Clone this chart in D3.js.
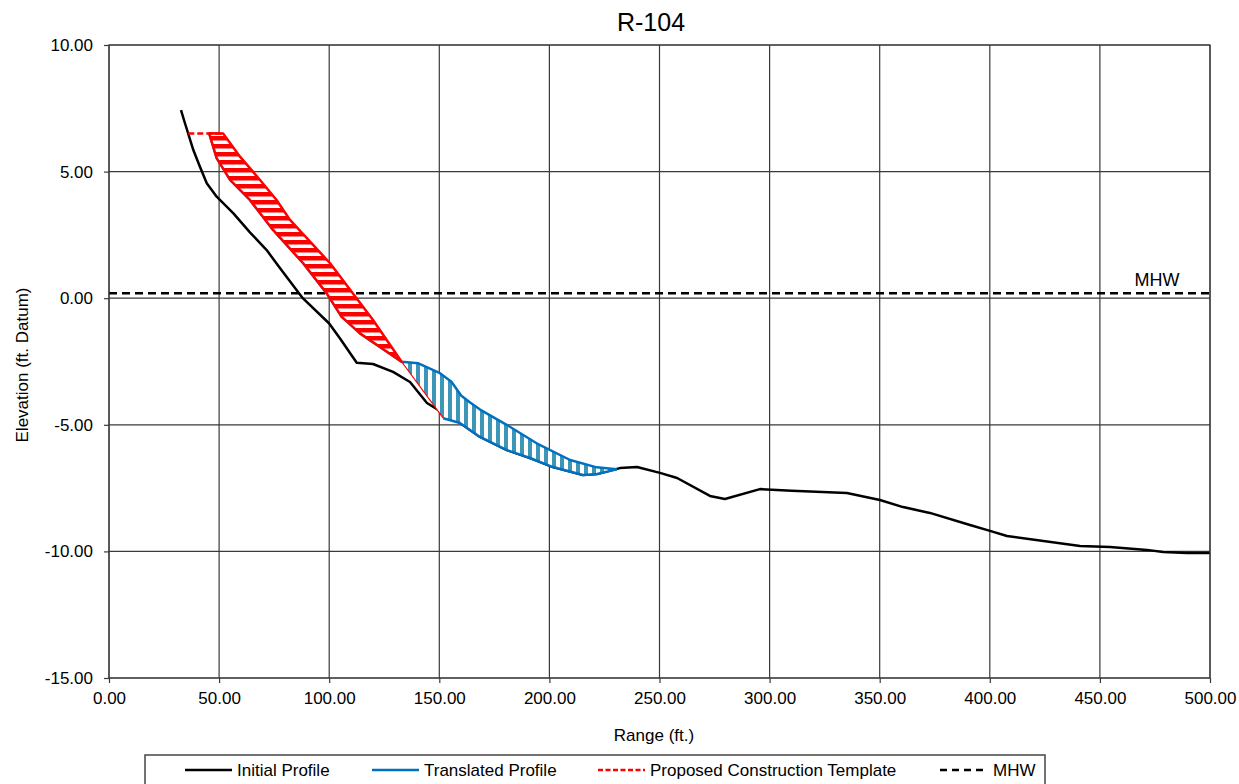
<!DOCTYPE html>
<html><head><meta charset="utf-8">
<script src="https://cdn.jsdelivr.net/npm/d3@7"></script>
<style>
body{margin:0;background:#fff;}
text{font-family:"Liberation Sans",Arial,sans-serif;fill:#000;}
</style></head>
<body><svg id="c" width="1239" height="784"></svg>
<script>
// ---- data ----
const initialProfile = [[32.7,7.43],[34.5,6.91],[38.3,5.85],[41.3,5.19],[44.4,4.54],[48.9,4.01],[56.5,3.35],[64,2.6],[71.6,1.9],[77.7,1.18],[88,0.0],[100,-1.0],[105,-1.6],[112.5,-2.55],[119.9,-2.6],[129,-2.91],[136.7,-3.31],[144.4,-4.14],[151.7,-4.53],[159.4,-4.93],[168.5,-5.48],[180.7,-6.0],[191.2,-6.31],[201.6,-6.67],[215.3,-6.98],[221.6,-6.94],[232,-6.71],[239.8,-6.67],[250.2,-6.9],[258,-7.1],[272.9,-7.81],[279.7,-7.93],[295.6,-7.54],[310,-7.6],[335.1,-7.69],[350.1,-7.97],[360.6,-8.25],[372.8,-8.48],[391,-8.96],[400.1,-9.19],[407.8,-9.39],[441,-9.79],[454.6,-9.83],[471.4,-9.94],[478.7,-10.02],[489.6,-10.06],[500,-10.06]];
const translatedProfile = [[45.5,6.51],[48.9,5.53],[55,4.67],[64,3.88],[73.9,2.76],[88.2,1.38],[98.9,0.19],[105.6,-0.73],[114,-1.39],[132.9,-2.51],[140.5,-2.57],[150.3,-2.96],[155.5,-3.3],[160,-3.85],[164,-4.12],[168.5,-4.4],[180.6,-5.0],[194.2,-5.73],[209.4,-6.39],[221.5,-6.68],[230.6,-6.76]];
const templateProfile = [[36,6.5],[51.9,6.5],[59.5,5.59],[68.6,4.67],[76.1,3.88],[82.2,3.09],[100.4,1.38],[119.9,-0.86],[132.9,-2.51],[151.8,-4.74]];
const mhwElevation = 0.2;
const meetX = 132.9;      // where template meets translated profile
const templateEndX = 151.8;
const xTicks = [0,50,100,150,200,250,300,350,400,450,500];
const yTicks = [10,5,0,-5,-10,-15];
const seriesNames = ["Initial Profile","Translated Profile","Proposed Construction Template","MHW"];
const titleText = "R-104";

// ---- layout ----
const svg = d3.select("#c");
const L=109, R=1210, T=45, B=678;
const x = d3.scaleLinear().domain([0,500]).range([L,R]);
const y = d3.scaleLinear().domain([-15,10]).range([B,T]);
const line = d3.line().x(d=>x(d[0])).y(d=>y(d[1]));
const fmt = d => d.toFixed(2);

const defs = svg.append("defs");
const pr = defs.append("pattern").attr("id","redHatch").attr("patternUnits","userSpaceOnUse").attr("width",8).attr("height",8);
pr.append("rect").attr("width",8).attr("height",8).attr("fill","#fff");
pr.append("rect").attr("width",8).attr("height",4.5).attr("fill","#ff0000");
const pb = defs.append("pattern").attr("id","blueHatch").attr("patternUnits","userSpaceOnUse").attr("width",8).attr("height",8);
pb.append("rect").attr("width",8).attr("height",8).attr("fill","#fff");
pb.append("rect").attr("width",4).attr("height",8).attr("fill","#3d96b8");

// grid
svg.append("g").selectAll("line.v").data(xTicks).join("line")
  .attr("x1",d=>x(d)).attr("x2",d=>x(d)).attr("y1",T).attr("y2",B)
  .attr("stroke","#3a3a3a").attr("stroke-width",1.2);
svg.append("g").selectAll("line.h").data(yTicks).join("line")
  .attr("x1",L).attr("x2",R).attr("y1",d=>y(d)).attr("y2",d=>y(d))
  .attr("stroke","#3a3a3a").attr("stroke-width",1.2);

// axes
const ax = svg.append("g").attr("transform",`translate(0,${B})`)
  .call(d3.axisBottom(x).tickValues(xTicks).tickFormat(fmt).tickSize(5).tickSizeOuter(0).tickPadding(9));
const ay = svg.append("g").attr("transform",`translate(${L},0)`)
  .call(d3.axisLeft(y).tickValues(yTicks).tickFormat(fmt).tickSize(5).tickSizeOuter(0).tickPadding(11));
[ax,ay].forEach(a=>{
  a.select(".domain").remove();
  a.selectAll(".tick line").attr("stroke","#3a3a3a").attr("stroke-width",1.2);
  a.selectAll(".tick text").attr("font-size",17).attr("font-family","Liberation Sans, Arial, sans-serif").attr("fill","#000");
});

// MHW
svg.append("line").attr("x1",L).attr("x2",R).attr("y1",y(mhwElevation)).attr("y2",y(mhwElevation))
  .attr("stroke","#000").attr("stroke-width",2.5).attr("stroke-dasharray","8,5");
svg.append("text").attr("x",1157).attr("y",y(mhwElevation)-7).attr("text-anchor","middle").attr("font-size",18).text("MHW");

// initial profile
svg.append("path").datum(initialProfile).attr("d",line).attr("fill","none").attr("stroke","#000").attr("stroke-width",2.5).attr("stroke-linejoin","round");

// blue fill polygon
const bluePoly = [
  ...translatedProfile.filter(d=>d[0]>=meetX),
  ...initialProfile.filter(d=>d[0]>templateEndX && d[0]<230.6).reverse(),
  ...templateProfile.filter(d=>d[0]>=meetX).reverse()
];
svg.append("path").datum(bluePoly).attr("d",d=>line(d)+"Z").attr("fill","url(#blueHatch)").attr("stroke","none");
// blue outline along lower (initial) edge
svg.append("path").datum([templateProfile[templateProfile.length-1], ...initialProfile.filter(d=>d[0]>templateEndX && d[0]<230.6), translatedProfile[translatedProfile.length-1]])
  .attr("d",line).attr("fill","none").attr("stroke","#0070c0").attr("stroke-width",2.5).attr("stroke-linejoin","round");

// translated profile line
svg.append("path").datum(translatedProfile).attr("d",line).attr("fill","none").attr("stroke","#0070c0").attr("stroke-width",2.5).attr("stroke-linejoin","round");

// template line below meeting point
svg.append("path").datum(templateProfile.filter(d=>d[0]>=meetX)).attr("d",line)
  .attr("fill","none").attr("stroke","#ff0000").attr("stroke-width",1.2);

// red fill polygon
const redPoly = [
  ...templateProfile.filter(d=>d[0]>45.5 && d[0]<=meetX),
  ...translatedProfile.filter(d=>d[0]<=meetX).reverse()
];
svg.append("path").datum(redPoly).attr("d",d=>line(d)+"Z").attr("fill","url(#redHatch)")
  .attr("stroke","#ff0000").attr("stroke-width",2.5).attr("stroke-linejoin","round");

// template dashed berm
svg.append("path").datum(templateProfile.filter(d=>d[0]<=51.9)).attr("d",line)
  .attr("fill","none").attr("stroke","#ff0000").attr("stroke-width",2.5).attr("stroke-dasharray","6,3");

// plot border
svg.append("rect").attr("x",L).attr("y",T).attr("width",R-L).attr("height",B-T)
  .attr("fill","none").attr("stroke","#3a3a3a").attr("stroke-width",1.2);

// titles
svg.append("text").attr("x",651).attr("y",31).attr("text-anchor","middle").attr("font-size",25).text(titleText);
svg.append("text").attr("x",654).attr("y",741).attr("text-anchor","middle").attr("font-size",17).text("Range (ft.)");
svg.append("text").attr("transform","translate(28,365) rotate(-90)").attr("text-anchor","middle").attr("font-size",17).text("Elevation (ft. Datum)");

// legend
svg.append("rect").attr("x",145).attr("y",755).attr("width",900).attr("height",40)
  .attr("fill","#fff").attr("stroke","#444").attr("stroke-width",1.5);
const legItems = [
  {x:185, color:"#000", dash:null},
  {x:372, color:"#0070c0", dash:null},
  {x:598, color:"#ff0000", dash:"5,2.5"},
  {x:940, color:"#000", dash:"7,5"}
];
const lg = svg.append("g").selectAll("g").data(seriesNames).join("g");
lg.append("line").attr("x1",(d,i)=>legItems[i].x).attr("x2",(d,i)=>legItems[i].x+47)
  .attr("y1",770).attr("y2",770).attr("stroke",(d,i)=>legItems[i].color).attr("stroke-width",2.5)
  .attr("stroke-dasharray",(d,i)=>legItems[i].dash);
lg.append("text").attr("x",(d,i)=>legItems[i].x+(i==3?53:52)).attr("y",776).attr("font-size",17).text(d=>d);
</script></body></html>
